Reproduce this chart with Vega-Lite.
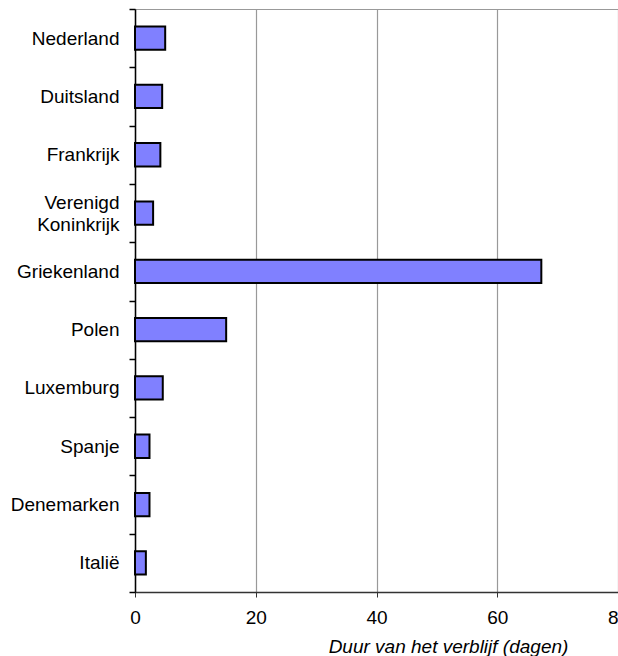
{
  "$schema": "https://vega.github.io/schema/vega-lite/v6.json",
  "autosize": {"type": "none"},
  "padding": {"left": 135, "top": 9, "right": 0, "bottom": 64},
  "width": 483,
  "height": 583,
  "config": {
    "font": "Liberation Sans",
    "view": {"stroke": "#999999", "strokeWidth": 1}
  },
  "data": {
    "values": [
      {"land": "Nederland", "dagen": 5.0},
      {"land": "Duitsland", "dagen": 4.5},
      {"land": "Frankrijk", "dagen": 4.2},
      {"land": "Verenigd Koninkrijk", "dagen": 3.0},
      {"land": "Griekenland", "dagen": 67.3},
      {"land": "Polen", "dagen": 15.1},
      {"land": "Luxemburg", "dagen": 4.6},
      {"land": "Spanje", "dagen": 2.4},
      {"land": "Denemarken", "dagen": 2.4},
      {"land": "Italië", "dagen": 1.8}
    ]
  },
  "mark": {"type": "bar", "fill": "#8080FF", "stroke": "#000000", "strokeWidth": 2, "height": {"band": 0.4}},
  "encoding": {
    "y": {
      "field": "land",
      "type": "nominal",
      "sort": null,
      "scale": {"paddingInner": 0, "paddingOuter": 0},
      "axis": {
        "title": null,
        "tickBand": "extent",
        "tickSize": 6,
        "tickColor": "#000000",
        "tickWidth": 1.5,
        "domainColor": "#000000",
        "domainWidth": 1.5,
        "labelPadding": 10,
        "labelFontSize": 19,
        "labelColor": "#000000",
        "labelLineHeight": 22,
        "labelExpr": "datum.label == 'Verenigd Koninkrijk' ? ['Verenigd ', 'Koninkrijk'] : datum.label",
        "labelOffset": {"condition": {"test": "datum.value == 'Verenigd Koninkrijk'", "value": -11}, "value": 0}
      }
    },
    "x": {
      "field": "dagen",
      "type": "quantitative",
      "scale": {"domain": [0, 80], "nice": false},
      "axis": {
        "values": [0, 20, 40, 60, 80],
        "title": "Duur van het verblijf (dagen)",
        "titleFontStyle": "italic",
        "titleFontWeight": "normal",
        "titleFontSize": 19,
        "titleColor": "#000000",
        "titleAlign": "center",
        "titleBaseline": "alphabetic",
        "titleX": 313,
        "titleY": 60,
        "grid": true,
        "gridColor": "#999999",
        "gridWidth": 1.2,
        "domainColor": "#333333",
        "domainWidth": 1.5,
        "tickColor": "#333333",
        "tickSize": 5,
        "labelFontSize": 19,
        "labelColor": "#000000",
        "labelPadding": 11,
        "labelFlush": false
      }
    }
  }
}
